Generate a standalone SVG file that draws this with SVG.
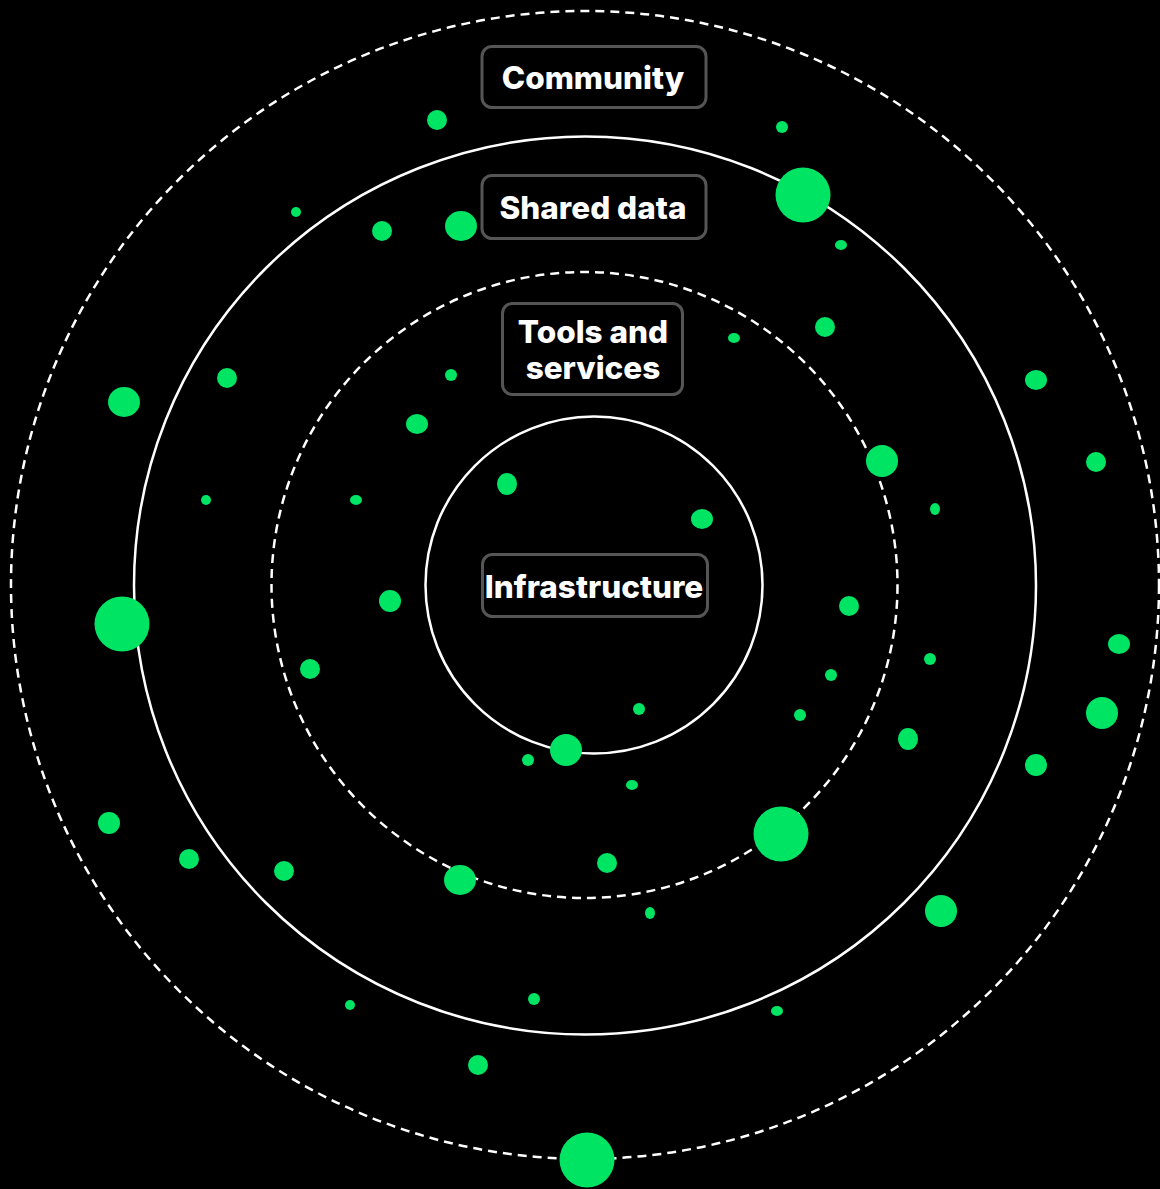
<svg xmlns="http://www.w3.org/2000/svg" width="1160" height="1189" viewBox="0 0 1160 1189">
<style>
.ring{fill:none;stroke:#fff;stroke-width:2.5}
.dash{stroke-dasharray:9 6}
.box{fill:#000;stroke:#555;stroke-width:3}
.lbl{font-family:Inter,"Liberation Sans",sans-serif;font-weight:800;font-size:31.5px;fill:#fff;text-anchor:middle}
.dot{fill:#00e463}
</style>
<rect width="1160" height="1189" fill="#000"/>
<g id="connectors">
<circle class="ring dash" cx="585" cy="585" r="574"/>
<ellipse class="ring" cx="585" cy="585.5" rx="451" ry="449"/>
<circle class="ring dash" cx="584.5" cy="585" r="313"/>
<circle class="ring" cx="594" cy="585" r="168.5"/>
</g>
<g id="dots">
<ellipse class="dot" cx="437" cy="120" rx="10" ry="10"/>
<ellipse class="dot" cx="782" cy="127" rx="6" ry="6"/>
<circle class="dot" cx="803" cy="195" r="27.5"/>
<ellipse class="dot" cx="841" cy="245" rx="6" ry="5"/>
<ellipse class="dot" cx="296" cy="212" rx="5" ry="5"/>
<ellipse class="dot" cx="382" cy="231" rx="10" ry="10"/>
<ellipse class="dot" cx="461" cy="226" rx="16" ry="15"/>
<ellipse class="dot" cx="825" cy="327" rx="10" ry="10"/>
<ellipse class="dot" cx="734" cy="338" rx="6" ry="5"/>
<ellipse class="dot" cx="1036" cy="380" rx="11" ry="10"/>
<ellipse class="dot" cx="124" cy="402" rx="16" ry="15"/>
<ellipse class="dot" cx="227" cy="378" rx="10" ry="10"/>
<ellipse class="dot" cx="451" cy="375" rx="6" ry="6"/>
<ellipse class="dot" cx="417" cy="424" rx="11" ry="10"/>
<ellipse class="dot" cx="882" cy="461" rx="16" ry="16"/>
<ellipse class="dot" cx="1096" cy="462" rx="10" ry="10"/>
<ellipse class="dot" cx="507" cy="484" rx="10" ry="11"/>
<ellipse class="dot" cx="702" cy="519" rx="11" ry="10"/>
<ellipse class="dot" cx="206" cy="500" rx="5" ry="5"/>
<ellipse class="dot" cx="356" cy="500" rx="6" ry="5"/>
<ellipse class="dot" cx="935" cy="509" rx="5" ry="6"/>
<circle class="dot" cx="122" cy="624" r="27.5"/>
<ellipse class="dot" cx="390" cy="601" rx="11" ry="11"/>
<ellipse class="dot" cx="849" cy="606" rx="10" ry="10"/>
<ellipse class="dot" cx="1119" cy="644" rx="11" ry="10"/>
<ellipse class="dot" cx="310" cy="669" rx="10" ry="10"/>
<ellipse class="dot" cx="831" cy="675" rx="6" ry="6"/>
<ellipse class="dot" cx="930" cy="659" rx="6" ry="6"/>
<ellipse class="dot" cx="639" cy="709" rx="6" ry="6"/>
<ellipse class="dot" cx="800" cy="715" rx="6" ry="6"/>
<ellipse class="dot" cx="1102" cy="713" rx="16" ry="16"/>
<ellipse class="dot" cx="566" cy="750" rx="16" ry="16"/>
<ellipse class="dot" cx="528" cy="760" rx="6" ry="6"/>
<ellipse class="dot" cx="908" cy="739" rx="10" ry="11"/>
<ellipse class="dot" cx="632" cy="785" rx="6" ry="5"/>
<ellipse class="dot" cx="1036" cy="765" rx="11" ry="11"/>
<circle class="dot" cx="781" cy="834" r="27.5"/>
<ellipse class="dot" cx="109" cy="823" rx="11" ry="11"/>
<ellipse class="dot" cx="189" cy="859" rx="10" ry="10"/>
<ellipse class="dot" cx="284" cy="871" rx="10" ry="10"/>
<ellipse class="dot" cx="460" cy="880" rx="16" ry="15"/>
<ellipse class="dot" cx="607" cy="863" rx="10" ry="10"/>
<ellipse class="dot" cx="650" cy="913" rx="5" ry="6"/>
<ellipse class="dot" cx="941" cy="911" rx="16" ry="16"/>
<ellipse class="dot" cx="350" cy="1005" rx="5" ry="5"/>
<ellipse class="dot" cx="534" cy="999" rx="6" ry="6"/>
<ellipse class="dot" cx="777" cy="1011" rx="6" ry="5"/>
<ellipse class="dot" cx="478" cy="1065" rx="10" ry="10"/>
<circle class="dot" cx="587" cy="1160" r="27.5"/>
</g>
<g id="community">
<rect class="box" x="482" y="46.5" width="224" height="61" rx="10"/>
<text class="lbl" x="593" y="89">Community</text>
</g>
<g id="shared-data">
<rect class="box" x="482" y="175.5" width="224" height="63" rx="10"/>
<text class="lbl" x="593" y="219">Shared data</text>
</g>
<g id="tools-and-services">
<rect class="box" x="502.5" y="303.5" width="180" height="91" rx="10"/>
<text class="lbl" x="593" y="343">Tools and</text>
<text class="lbl" x="593" y="379">services</text>
</g>
<g id="infrastructure">
<rect class="box" x="482.5" y="554.5" width="225" height="62" rx="10"/>
<text class="lbl" x="594" y="598">Infrastructure</text>
</g>
</svg>
